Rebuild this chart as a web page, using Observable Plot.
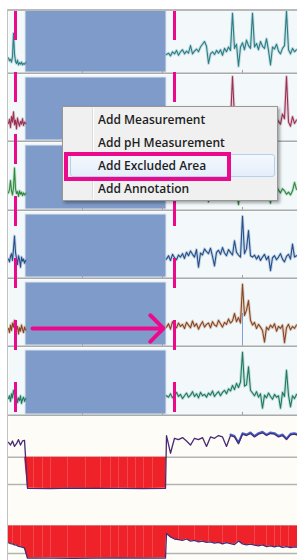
<!DOCTYPE html>
<html><head><meta charset="utf-8">
<script src="https://cdn.jsdelivr.net/npm/d3@7"></script>
<script src="https://cdn.jsdelivr.net/npm/@observablehq/plot@0.6"></script>
<style>
html,body{margin:0;padding:0;background:#fff;}
#wrap{position:relative;width:297px;height:560px;overflow:hidden;background:#fff;}
#wrap svg{position:absolute;left:0;}
#menu{position:absolute;left:62px;top:106px;width:216px;height:95px;background:#f0f0f0;border:1px solid #979797;box-sizing:border-box;box-shadow:2px 2px 3px rgba(0,0,0,.35);font-family:"Open Sans",sans-serif;font-size:12px;font-weight:600;color:#1e1e1e;}
#menu .sep{position:absolute;left:29px;top:1px;bottom:1px;width:1px;background:#dcdcdc;border-right:1px solid #fff;}
#menu .hover{position:absolute;left:7px;top:47px;width:205px;height:23px;box-sizing:border-box;border:1px solid #b3d0f2;border-radius:3px;background:linear-gradient(#f4f8fd,#e4eefa);}
#menu .item{position:absolute;left:35px;height:23px;line-height:23px;white-space:nowrap;}
#hl{position:absolute;left:64px;top:152px;width:167px;height:29px;border:4px solid #ec0a8c;box-sizing:border-box;}
.bd{position:absolute;background:#b9b9b9;}
</style></head><body><div id="wrap"></div>
<script>
// ---------- data ----------
const timeDomain = [0, 289];
const leftTimes = d3.range(0, 18);          // before the excluded area
const rightTimes = d3.range(158, 289, 2);   // after the excluded area
const excludedSpan = [17, 158];
const markerTimes = [7, 166];
const tickTimes = [74, 154, 234];
const eventTimes = [234];
const arrowSpec = [{from: 24, to: 155, level: 28}];
const menuItems = ["Add Measurement", "Add pH Measurement", "Add Excluded Area", "Add Annotation"];
const selectedItem = 2;

const channelColors = ["#2b7d86", "#9c3052", "#2e8a3f", "#244f8a", "#8a4621", "#1e7a62"];

const ch1Left = [24,20,22,18,26,60,30,19,16,21,14,17,15,18,14,16,15,17];
const ch1Right = [29,31,27,33,30,35,28,33,36,30,34,31,42,30,34,37,33,40,44,48,41,16,30,33,29,35,31,36,28,38,33,40,35,89,38,44,12,40,46,36,50,42,38,89,40,45,36,48,41,38,52,35,14,40,37,44,34,30,38,42,92,36,30,38,33,36];
const ch2Left = [28,34,22,38,30,45,26,33,20,36,29,24,31,27,35,25,30,28];
const ch2Right = [30,26,33,28,24,31,35,27,30,25,32,28,36,29,26,33,30,38,27,31,34,22,29,33,27,35,30,26,32,37,29,34,31,97,36,28,18,33,40,30,35,28,32,36,30,38,27,34,29,31,40,26,20,33,29,36,31,27,42,35,97,30,24,38,28,33];
const ch3Left = [27,32,45,30,24,35,63,33,26,29,22,30,25,28,23,27,24,26];
const ch3Right = [29,33,27,31,35,28,32,26,30,34,29,36,31,27,33,30,38,28,32,35,30,14,29,33,27,36,31,28,34,38,30,35,29,88,37,31,10,35,42,30,36,29,33,80,31,37,28,34,30,32,41,27,12,34,30,36,31,27,33,30,25,28,24,30,42,32];
const ch4Left = [30,26,34,38,28,45,64,40,31,22,35,29,18,33,27,30,24,28];
const ch4Right = [30,35,28,37,32,29,36,33,38,31,40,35,42,37,33,44,18,39,36,45,41,38,46,34,20,40,43,37,47,39,35,44,40,36,57,40,36,33,93,38,45,72,35,33,36,30,35,28,33,37,29,34,13,32,35,29,33,38,30,26,34,37,30,52,33,35];
const ch5Left = [28,22,33,25,36,30,40,34,26,31,20,29,24,33,27,22,30,26];
const ch5Right = [30,35,27,38,32,29,36,31,34,28,37,33,29,39,31,35,27,33,38,30,34,36,29,38,33,31,40,35,30,37,34,42,36,39,50,38,44,36,93,47,55,69,40,33,37,28,34,30,25,8,30,26,33,29,35,24,31,28,33,7,29,34,26,31,28,33];
const ch6Left = [26,30,22,33,27,38,31,24,29,20,27,23,30,19,25,28,22,26];
const ch6Right = [30,28,33,27,31,35,29,32,26,30,34,28,31,36,29,33,27,35,30,32,28,34,31,37,29,33,36,30,35,38,33,40,37,45,39,48,42,50,93,44,46,72,38,34,30,36,28,33,12,31,27,34,29,25,32,28,30,12,35,29,67,31,14,30,26,32];

const phLeftTimes = d3.range(0, 17, 2);
const phExclTimes = d3.range(19, 158, 23);
const phRightTimes = d3.range(158, 291, 4);
const ph1Left = [5.1,4.9,5.2,4.8,5.0,5.3,4.9,5.2,5.25];
const ph1Excl = [1.72,1.7,1.73,1.71,1.72,1.7,1.72];
const ph1Right = [5.6,4.3,5.4,5.3,5.45,5.2,4.9,5.4,5.3,5.45,4.8,5.5,5.4,5.6,5.5,4.8,5.6,5.5,5.0,5.7,5.6,5.75,5.5,5.7,5.8,5.6,5.75,5.7,5.5,5.6,5.3,5.65,5.7,5.6];
const ph2Left = [2.78,2.72,2.7,2.62,2.6,2.52,2.5,2.45,2.4];
const ph2Excl = [1.66,1.67,1.65,1.66,1.68,1.66,1.67];
const ph2Right = [3.45,3.2,3.05,3.0,2.95,3.05,2.9,2.95,2.85,2.9,2.8,2.85,2.75,2.8,2.7,2.78,2.72,2.65,2.9,2.7,2.62,2.68,2.6,2.55,2.62,2.5,2.55,2.48,2.55,2.45,2.5,2.42,2.48,2.45];
const phThreshold = 4;
const phGrid = [4, 2];
const ph1StripeTimes = [25, 34, 42, 59, 77, 92, 102, 110, 119, 127, 135, 144];
const ph2StripeTimes = [4, 12, 25, 34, 42, 59, 77, 92, 102, 110, 119, 127, 135, 144, 170, 186, 200, 214, 228, 246, 258, 266, 272, 280];

// ---------- styles ----------
const panelBg = "#f3f9fb", phBg = "#fdfcf7", exclFill = "#7f9bc9", magenta = "#ec0a8c";
const wrap = document.getElementById("wrap");

function place(svg, y) { svg.style.top = y + "px"; wrap.appendChild(svg); }

const panels = [
  {top: 10, height: 64, ymax: 93, insetTop: 0, left: ch1Left, right: ch1Right},
  {top: 74, height: 68, ymax: 100, insetTop: 3, left: ch2Left, right: ch2Right},
  {top: 142, height: 69, ymax: 100, insetTop: 3, left: ch3Left, right: ch3Right},
  {top: 211, height: 68, ymax: 100, insetTop: 3, left: ch4Left, right: ch4Right},
  {top: 279, height: 68, ymax: 100, insetTop: 3, left: ch5Left, right: ch5Right},
  {top: 347, height: 69, ymax: 100, insetTop: 3, left: ch6Left, right: ch6Right}
];

panels.forEach((p, k) => {
  const color = channelColors[k];
  const L = leftTimes.map((t, i) => ({t, v: p.left[i]}));
  const R = rightTimes.map((t, i) => ({t, v: p.right[i]}));
  const marks = [
    Plot.frame({fill: panelBg, stroke: "none"}),
    Plot.rect([excludedSpan], {x1: d => d[0], x2: d => d[1], y1: 0, y2: p.ymax, insetTop: p.insetTop, insetBottom: 2, fill: exclFill, stroke: "#dde5f0", strokeWidth: 1}),
  ];
  if (k === 4) marks.push(Plot.ruleX(eventTimes, {y1: 6, y2: 50, stroke: "#7b9fe0", strokeWidth: 1}));
  for (const D of [L, R]) {
    marks.push(Plot.line(D, {x: "t", y: "v", stroke: color, strokeOpacity: 0.22, strokeWidth: 3}));
    marks.push(Plot.line(D, {x: "t", y: "v", stroke: color, strokeWidth: 1.1}));
  }
  marks.push(Plot.ruleX(tickTimes, {y1: 0, y2: 6, stroke: "#a0a0a0"}));
  marks.push(Plot.ruleY([0], {stroke: "#aaaaaa", strokeWidth: 2, dy: -1}));
  if (k === 4) marks.push(Plot.arrow(arrowSpec, {x1: "from", x2: "to", y1: "level", y2: "level", stroke: magenta, strokeWidth: 4, headLength: 7, headAngle: 90}));
  const svg = Plot.plot({
    width: 297, height: p.height, marginLeft: 8, marginRight: 0, marginTop: 0, marginBottom: 0,
    style: {background: "transparent"},
    x: {domain: timeDomain, axis: null},
    y: {domain: [0, p.ymax], axis: null},
    marks
  });
  place(svg, p.top);
});

function phData(left, excl, right) {
  return [
    ...phLeftTimes.map((t, i) => ({t, ph: left[i]})),
    ...phExclTimes.map((t, i) => ({t, ph: excl[i]})),
    ...phRightTimes.map((t, i) => ({t, ph: right[i]}))
  ];
}
// pH of a trace at time t
function phAt(data, t) {
  const i = d3.bisector(d => d.t).right(data, t);
  const a = data[Math.max(0, i - 1)], b = data[Math.min(data.length - 1, i)];
  if (a === b) return a.ph;
  return a.ph + (b.ph - a.ph) * (t - a.t) / (b.t - a.t);
}
const phPanels = [
  {top: 416, height: 74, range: [68, 0], data: phData(ph1Left, ph1Excl, ph1Right), stripes: ph1StripeTimes, upper: true},
  {top: 490, height: 70, range: [63, -6], data: phData(ph2Left, ph2Excl, ph2Right), stripes: ph2StripeTimes, upper: false}
];
phPanels.forEach(p => {
  const stripes = p.stripes.map(t => ({t, ph: phAt(p.data, t)}));
  const marks = [
    Plot.frame({fill: phBg, stroke: "none"}),
    Plot.ruleY(phGrid, {stroke: "#b3b3b3", strokeWidth: 1.5}),
    Plot.areaY(p.data, {x: "t", y1: phThreshold, y2: d => Math.min(d.ph, phThreshold), fill: "#ee2228"}),
    Plot.ruleX(stripes, {x: "t", y1: phThreshold, y2: "ph", stroke: "#f47d80", strokeWidth: 1, strokeOpacity: 0.4}),
  ];
  if (p.upper) marks.push(Plot.line(p.data.filter(d => d.t >= 222), {x: "t", y: "ph", stroke: "#4566cc", strokeWidth: 2, dy: -1}));
  marks.push(Plot.line(p.data, {x: "t", y: "ph", stroke: "#4a2a72", strokeWidth: 1.3}));
  const svg = Plot.plot({
    width: 297, height: p.height, marginLeft: 8, marginRight: 0, marginTop: 0, marginBottom: 0,
    style: {background: "transparent"},
    x: {domain: timeDomain, axis: null},
    y: {domain: [2, 7], range: p.range, axis: null},
    marks
  });
  place(svg, p.top);
});

// dashed marker lines across the six channels
const overlay = Plot.plot({
  width: 297, height: 406, marginLeft: 8, marginRight: 0, marginTop: 0, marginBottom: 0,
  style: {background: "transparent"},
  x: {domain: timeDomain, axis: null},
  marks: [Plot.ruleX(markerTimes, {stroke: magenta, strokeWidth: 3, strokeDasharray: "30,32"})]
});
place(overlay, 10);

// borders
const topBorder = document.createElement("div"); topBorder.className = "bd";
Object.assign(topBorder.style, {left: "7px", top: "9px", width: "290px", height: "2px"});
wrap.appendChild(topBorder);
const leftBorder = document.createElement("div"); leftBorder.className = "bd";
Object.assign(leftBorder.style, {left: "7px", top: "9px", width: "1px", height: "551px", background: "#c2c2c2"});
wrap.appendChild(leftBorder);

// context menu
const menu = document.createElement("div"); menu.id = "menu";
menu.innerHTML = '<div class="sep"></div><div class="hover"></div>';
menuItems.forEach((txt, i) => {
  const d = document.createElement("div"); d.className = "item";
  d.style.top = (1 + i * 23) + "px"; d.textContent = txt; menu.appendChild(d);
});
wrap.appendChild(menu);
const hl = document.createElement("div"); hl.id = "hl"; wrap.appendChild(hl);
</script></body></html>
